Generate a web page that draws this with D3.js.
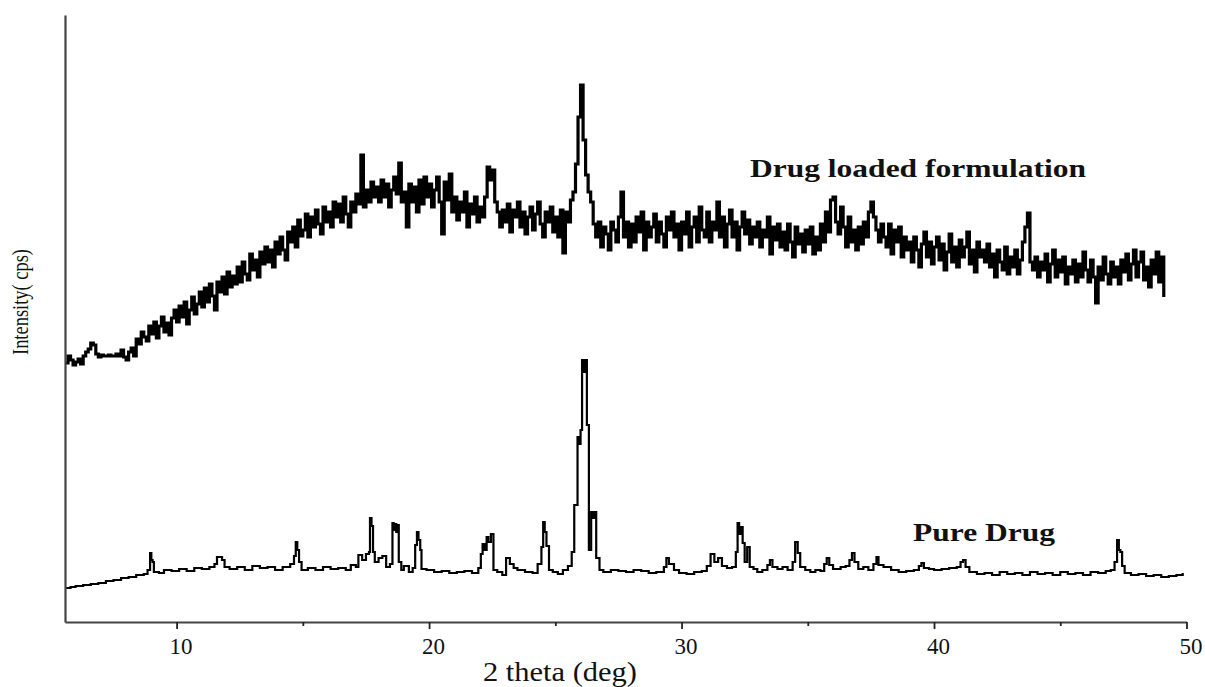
<!DOCTYPE html>
<html>
<head>
<meta charset="utf-8">
<script src="https://cdn.jsdelivr.net/npm/d3@7/dist/d3.min.js"></script>
<style>
  html, body { margin: 0; padding: 0; background: #fff; }
  svg { display: block; }
</style>
</head>
<body>
<svg id="chart" width="1205" height="687"></svg>
<script>
// ---------------- DATA ----------------
const xTicks = [10, 20, 30, 40, 50];
const xMinorTicks = [15, 25, 35, 45];
const xLabel = "2 theta (deg)";
const yLabel = "Intensity( cps)";
const seriesNames = ["Drug loaded formulation", "Pure Drug"];

// Drug loaded formulation: evenly sampled scan
const loadedStart = 5.6;
const loadedStep = 0.1;
const loadedValues = [
  259, 266, 262, 257,
  260, 263, 258, 266, 270, 273, 279, 277, 268, 265,
  267, 266, 266, 267, 266, 266, 268, 266, 272, 265,
  262, 270, 274, 266, 283, 278, 290, 285, 281, 296,
  288, 300, 284, 296, 305, 290, 299, 287, 304, 312,
  300, 316, 305, 320, 298, 312, 325, 308, 318, 330,
  315, 334, 320, 338, 326, 312, 340, 330, 345, 328,
  350, 335, 346, 338, 355, 340, 360, 348, 342, 368,
  352, 362, 345, 370, 358, 375, 360, 372, 355, 380,
  368, 385, 372, 362, 390, 380, 395, 375, 402, 386,
  392, 408, 385, 405, 395, 412, 398, 388, 415, 400,
  410, 395, 420, 405, 418, 400, 425, 408, 395, 420,
  410, 428, 418, 467, 415, 432, 420, 440, 425, 435,
  420, 442, 425, 438, 415, 432, 445, 428, 459, 420,
  430, 395, 438, 420, 435, 410, 442, 418, 445, 425,
  438, 415, 432, 445, 420, 388, 440, 422, 448, 410,
  425, 402, 420, 410, 430, 395, 418, 408, 425, 400,
  415, 405, 425, 455, 442, 452, 420, 410, 395, 412,
  400, 418, 390, 412, 405, 420, 395, 410, 388, 405,
  415, 392, 408, 420, 398, 385, 410, 400, 415, 390,
  405, 385, 412, 369, 410, 400, 422, 430, 458, 505,
  537, 482, 447, 430, 420, 398, 385, 400, 375, 395,
  388, 372, 400, 392, 380, 405, 430, 385, 400, 375,
  398, 380, 405, 390, 410, 372, 400, 385, 395, 408,
  380, 400, 388, 375, 405, 392, 410, 385, 398, 372,
  400, 388, 410, 375, 395, 405, 380, 415, 392, 385,
  410, 380, 400, 392, 420, 385, 405, 375, 398, 412,
  385, 400, 372, 395, 410, 388, 402, 378, 395, 385,
  400, 375, 392, 385, 405, 368, 395, 382, 398, 375,
  390, 372, 398, 380, 365, 395, 378, 388, 370, 392,
  378, 395, 368, 385, 372, 398, 380, 410, 390, 422,
  425, 400, 388, 415, 395, 375, 405, 380, 392, 372,
  395, 378, 400, 385, 410, 420, 405, 392, 380, 398,
  385, 375, 398, 368, 392, 380, 395, 365, 385, 372,
  380, 360, 385, 372, 355, 378, 390, 365, 380, 358,
  375, 385, 362, 378, 352, 370, 388, 360, 375, 355,
  382, 365, 375, 390, 358, 372, 350, 380, 365, 372,
  360, 378, 355, 368, 345, 372, 360, 352, 375, 348,
  365, 355, 372, 348, 362, 380, 395, 409, 360, 352,
  365, 345, 360, 352, 368, 340, 358, 372, 345, 362,
  350, 365, 338, 355, 348, 362, 340, 358, 345, 370,
  352, 340, 362, 345, 319, 355, 342, 365, 348, 338,
  360, 345, 355, 338, 362, 350, 368, 342, 358, 372,
  345, 360, 370, 342, 355, 335, 362, 348, 370, 340,
  365, 325
];

// Pure drug: [2theta, intensity]
const pureDrug = [
  [5.6,34],[5.8,35],[6.0,36],[6.3,37],[6.6,38],[6.9,39],[7.2,41],[7.5,42],[7.8,44],[8.1,45],
  [8.4,47],[8.7,48],[8.85,52],[8.95,69],[9.0,62],[9.05,60],[9.1,50],[9.3,49],[9.5,52],[9.8,51],[10.1,53],
  [10.4,51],[10.7,54],[11.0,53],[11.3,55],[11.5,58],[11.6,65],[11.8,62],[11.9,55],[12.1,53],[12.4,55],
  [12.7,52],[13.0,56],[13.3,54],[13.6,55],[13.9,52],[14.2,55],[14.5,58],[14.65,66],[14.72,80],[14.78,72],[14.85,60],
  [14.95,52],[15.2,54],[15.5,52],[15.8,55],[16.1,53],[16.4,54],[16.7,52],[16.9,57],[17.1,55],[17.2,67],
  [17.35,62],[17.5,68],[17.62,70],[17.66,104],[17.72,96],[17.78,70],[17.85,60],[18.0,64],[18.15,66],[18.3,55],[18.45,58],
  [18.55,99],[18.6,92],[18.65,98],[18.7,90],[18.75,97],[18.8,60],[18.9,52],[19.0,56],[19.2,50],[19.35,54],[19.45,77],[19.52,90],[19.58,82],[19.65,72],
  [19.7,53],[19.9,52],[20.2,50],[20.5,51],[20.8,49],[21.1,50],[21.4,51],[21.7,49],[21.95,54],[22.05,68],
  [22.12,78],[22.2,72],[22.28,85],[22.35,80],[22.45,88],[22.55,52],[22.7,50],[22.9,47],[23.05,64],[23.2,58],[23.35,54],[23.5,52],
  [23.8,50],[24.1,49],[24.3,58],[24.45,75],[24.52,100],[24.58,90],[24.65,76],[24.75,52],[24.9,50],[25.1,48],[25.3,52],
  [25.5,56],[25.65,70],[25.75,117],[25.88,185],[25.94,178],[26.0,192],[26.06,262],[26.12,250],[26.18,262],[26.25,197],[26.33,72],[26.42,110],[26.5,104],[26.56,110],
  [26.62,64],[26.75,52],[26.9,50],[27.2,52],[27.5,51],[27.8,50],[28.1,52],[28.4,51],[28.7,49],[29.0,50],
  [29.3,55],[29.4,64],[29.5,58],[29.7,52],[29.9,49],[30.2,48],[30.5,50],[30.8,51],[31.0,56],[31.15,68],
  [31.3,60],[31.45,64],[31.6,56],[31.8,54],[32.0,55],[32.15,70],[32.22,99],[32.28,88],[32.35,95],[32.42,79],[32.5,60],
  [32.6,75],[32.7,55],[32.85,53],[33.0,50],[33.2,52],[33.4,57],[33.5,62],[33.6,55],[33.8,53],[34.0,55],
  [34.2,52],[34.4,60],[34.5,80],[34.6,69],[34.7,55],[34.9,52],[35.1,50],[35.3,52],[35.5,51],[35.65,58],
  [35.75,64],[35.85,57],[36.0,53],[36.3,55],[36.5,56],[36.65,62],[36.75,69],[36.85,60],[37.0,53],[37.2,55],
  [37.4,52],[37.6,58],[37.72,65],[37.8,57],[38.0,55],[38.3,52],[38.6,50],[38.9,51],[39.2,52],[39.4,56],
  [39.5,59],[39.6,54],[39.8,53],[40.0,52],[40.3,53],[40.6,54],[40.9,55],[41.05,60],[41.15,62],[41.25,55],
  [41.4,50],[41.7,48],[42.0,49],[42.3,47],[42.6,50],[42.9,48],[43.2,49],[43.5,47],[43.8,50],[44.1,48],
  [44.4,49],[44.7,47],[45.0,50],[45.3,48],[45.6,49],[45.9,47],[46.2,50],[46.5,49],[46.8,51],[47.0,52],
  [47.15,60],[47.25,82],[47.32,72],[47.38,70],[47.45,56],[47.55,49],[47.8,47],[48.1,48],[48.4,46],[48.7,47],[49.0,45],
  [49.3,46],[49.6,47],[49.85,49]
];

// ---------------- CHART ----------------
(function () {
const svg = d3.select("#chart");
const mLeft = 65, mRight = 1186.5, mTop = 15, mBottom = 622;
const serif = "'Liberation Serif', 'Times New Roman', serif";

const x = d3.scaleLinear().domain([5.58, 50]).range([mLeft, mRight]);
const y = d3.scaleLinear().domain([0, 607]).range([mBottom, mTop]);

const loaded = loadedValues.map((v, i) => [loadedStart + i * loadedStep, v]);

svg.append("defs").append("clipPath").attr("id", "plotClip")
  .append("rect").attr("x", mLeft).attr("y", 0).attr("width", mRight - mLeft + 2).attr("height", mBottom);

const line = d3.line().x(d => x(d[0])).y(d => y(d[1])).curve(d3.curveStepAfter);

const plot = svg.append("g").attr("clip-path", "url(#plotClip)");
plot.append("path").datum(loaded)
  .attr("d", line).attr("fill", "none").attr("stroke", "#000")
  .attr("stroke-width", 3.2).attr("stroke-linejoin", "miter");
plot.append("path").datum(pureDrug)
  .attr("d", line).attr("fill", "none").attr("stroke", "#000")
  .attr("stroke-width", 2.2).attr("stroke-linejoin", "miter");

// X axis
const xAxis = svg.append("g").attr("transform", `translate(0,${mBottom})`)
  .call(d3.axisBottom(x).tickValues(xTicks).tickSize(7).tickSizeOuter(0).tickPadding(9).tickFormat(d3.format("d")));
xAxis.select(".domain").attr("stroke", "#444").attr("stroke-width", 2.2);
xAxis.selectAll(".tick line").attr("stroke", "#222").attr("stroke-width", 1.8);
xAxis.selectAll(".tick text")
  .attr("font-family", serif)
  .attr("font-size", 23).attr("fill", "#111")
  .attr("dx", 4);

const xMinor = svg.append("g").attr("transform", `translate(0,${mBottom})`)
  .call(d3.axisBottom(x).tickValues(xMinorTicks).tickSize(4).tickSizeOuter(0).tickFormat(""));
xMinor.select(".domain").remove();
xMinor.selectAll(".tick line").attr("stroke", "#222").attr("stroke-width", 1.8);

// Y axis (no ticks)
const yAxis = svg.append("g").attr("transform", `translate(${mLeft},0)`)
  .call(d3.axisLeft(y).tickValues([]).tickSizeOuter(0));
yAxis.select(".domain").attr("stroke", "#444").attr("stroke-width", 2.2);

// Axis titles
svg.append("text")
  .attr("x", 560).attr("y", 681).attr("text-anchor", "middle")
  .attr("font-family", serif)
  .attr("font-size", 27).attr("fill", "#111")
  .attr("textLength", 154).attr("lengthAdjust", "spacingAndGlyphs")
  .text(xLabel);

svg.append("text")
  .attr("transform", "translate(28,302) rotate(-90)")
  .attr("text-anchor", "middle")
  .attr("font-family", serif)
  .attr("font-size", 24).attr("fill", "#111")
  .attr("textLength", 106).attr("lengthAdjust", "spacingAndGlyphs")
  .text(yLabel);

// Series labels
svg.append("text")
  .attr("x", 750).attr("y", 177)
  .attr("font-family", serif)
  .attr("font-size", 26).attr("font-weight", "bold").attr("fill", "#111")
  .attr("textLength", 336).attr("lengthAdjust", "spacingAndGlyphs")
  .text(seriesNames[0]);

svg.append("text")
  .attr("x", 913).attr("y", 541)
  .attr("font-family", serif)
  .attr("font-size", 26).attr("font-weight", "bold").attr("fill", "#111")
  .attr("textLength", 142).attr("lengthAdjust", "spacingAndGlyphs")
  .text(seriesNames[1]);
})();
</script>
</body>
</html>
